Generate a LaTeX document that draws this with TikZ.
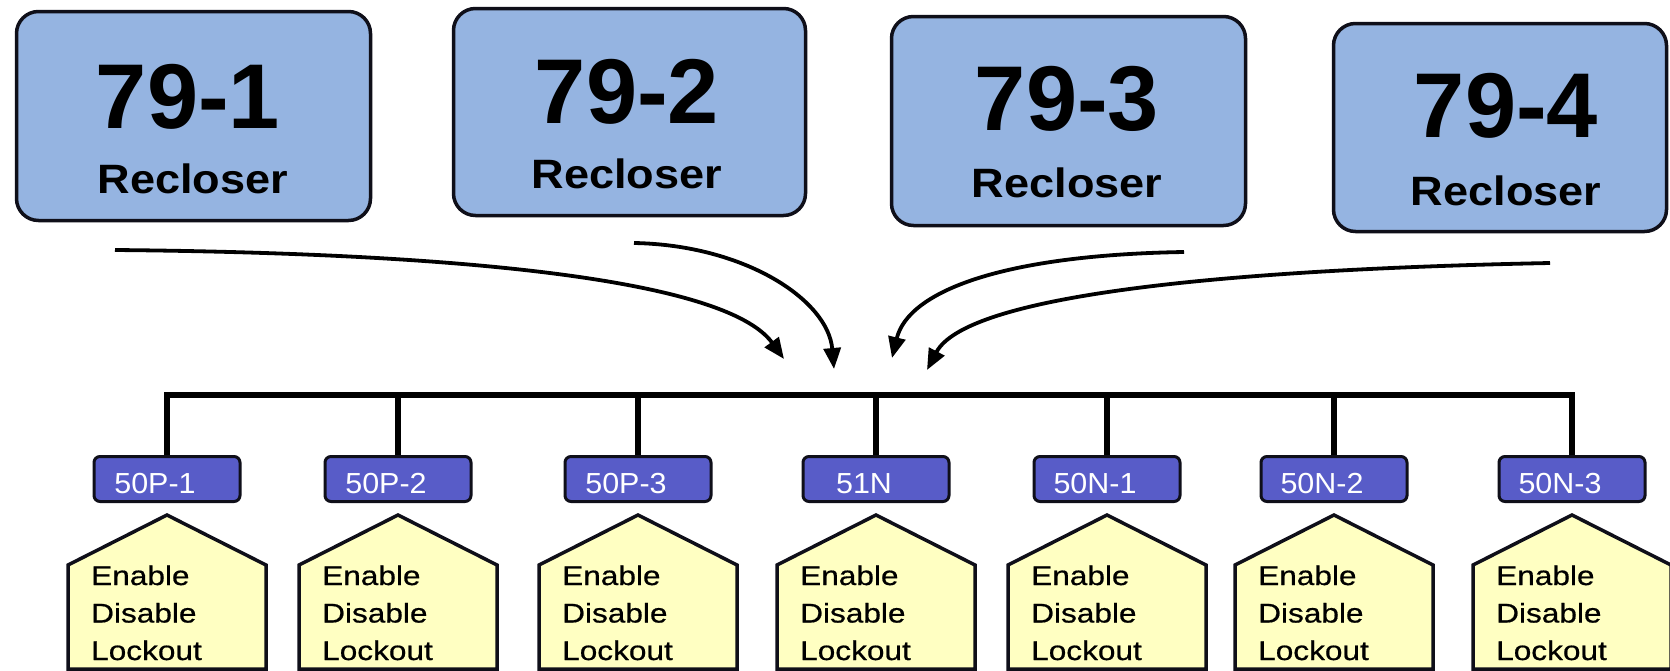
\documentclass[tikz,border=0pt]{standalone}
\usepackage{fontspec}
\setmainfont{Liberation Sans}
\newfontfamily\widefont[FakeStretch=1.1]{Liberation Sans}
\newfontfamily\tagfont[FakeStretch=1.05]{Liberation Sans}
\newfontfamily\actfont[FakeStretch=1.17,FakeBold=0.6]{Liberation Sans}
\usetikzlibrary{arrows.meta}
\definecolor{boxblue}{RGB}{149,180,225}
\definecolor{tagblue}{RGB}{88,92,200}
\definecolor{houseyellow}{RGB}{255,255,194}
\definecolor{edgecol}{RGB}{15,15,25}
\tikzset{
  recl/.style={draw=edgecol, line width=3.5pt, fill=boxblue, rounded corners=22pt, inner sep=0pt},
  numtxt/.style={font=\fontsize{92}{92}\selectfont\bfseries, anchor=base, inner sep=0pt, text=black},
  wordtxt/.style={font=\widefont\fontsize{41}{41}\selectfont\bfseries, anchor=base, inner sep=0pt, text=black},
  tagbox/.style={draw=edgecol, line width=3pt, fill=tagblue, rounded corners=6pt, minimum width=146pt, minimum height=45pt, inner sep=0pt},
  tagtxt/.style={font=\tagfont\fontsize{29}{29}\selectfont, text=white, anchor=base, inner sep=0pt},
  house/.style={draw=edgecol, line width=3.5pt, fill=houseyellow, line join=miter},
  acttxt/.style={font=\actfont\fontsize{27}{37.5}\selectfont, align=left, anchor=base west, inner sep=0pt, text=black},
  feed/.style={line width=3.8pt, -{Triangle[width=17pt,length=21pt]}},
  busline/.style={line width=6pt, line join=miter}
}
\begin{document}
\begin{tikzpicture}[x=1pt,y=-1pt]
\path[use as bounding box, fill=white] (0,0) rectangle (1670,670);
\clip (0,0) rectangle (1670,670);

% Recloser boxes
\node[recl, minimum width=354pt, minimum height=209pt] (r1) at (193.5,116) {};
\node[recl, minimum width=352pt, minimum height=207pt] (r2) at (629.5,112) {};
\node[recl, minimum width=354pt, minimum height=209pt] (r3) at (1068.5,121) {};
\node[recl, minimum width=333pt, minimum height=208pt] (r4) at (1500,127.5) {};

\node[numtxt] (n1) at (188,128) {79-1};
\node[wordtxt] (w1) at (193,193) {Recloser};
\node[numtxt] (n2) at (627,123) {79-2};
\node[wordtxt] (w2) at (627,188) {Recloser};
\node[numtxt] (n3) at (1067,130) {79-3};
\node[wordtxt] (w3) at (1067,197) {Recloser};
\node[numtxt] (n4) at (1506,137) {79-4};
\node[wordtxt] (w4) at (1506,205) {Recloser};

% feed arrows
\coordinate (a1s) at (115,250);  \coordinate (a1e) at (784,359);
\coordinate (a2s) at (634,243);  \coordinate (a2e) at (834,369);
\coordinate (a3s) at (1184,252); \coordinate (a3e) at (892,358);
\coordinate (a4s) at (1550,263); \coordinate (a4e) at (927,370);
\draw[feed] (a1s) .. controls (450,253) and (725,278) .. (a1e);
\draw[feed] (a2s) .. controls (745,245) and (828,300) .. (a2e);
\draw[feed] (a3s) .. controls (1000,255) and (908,292) .. (a3e);
\draw[feed] (a4s) .. controls (1200,270) and (965,298) .. (a4e);

% function tags and houses
\foreach \c/\t [count=\i] in {167/50P-1,398/50P-2,638/50P-3,876/51N,1107/50N-1,1334/50N-2,1572/50N-3} {
  \path[house] (\c-99,669) -- (\c-99,565) -- (\c,515) -- (\c+99,565) -- (\c+99,669) -- cycle;
  \node[acttxt] (act\i) at (\c-76,660) {Enable\\Disable\\Lockout};
  \node[tagbox] (t\i) at (\c,479) {};
  \node[tagtxt] (tt\i) at (\c-12,493) {\t};
  \coordinate (bus\i) at (\c,395);
}

% bus
\draw[busline] (t1.north) -- (bus1) -- (bus7) -- (t7.north);
\foreach \i in {2,...,6} {
  \draw[busline] (bus\i) -- (t\i.north);
}
\end{tikzpicture}
\end{document}
